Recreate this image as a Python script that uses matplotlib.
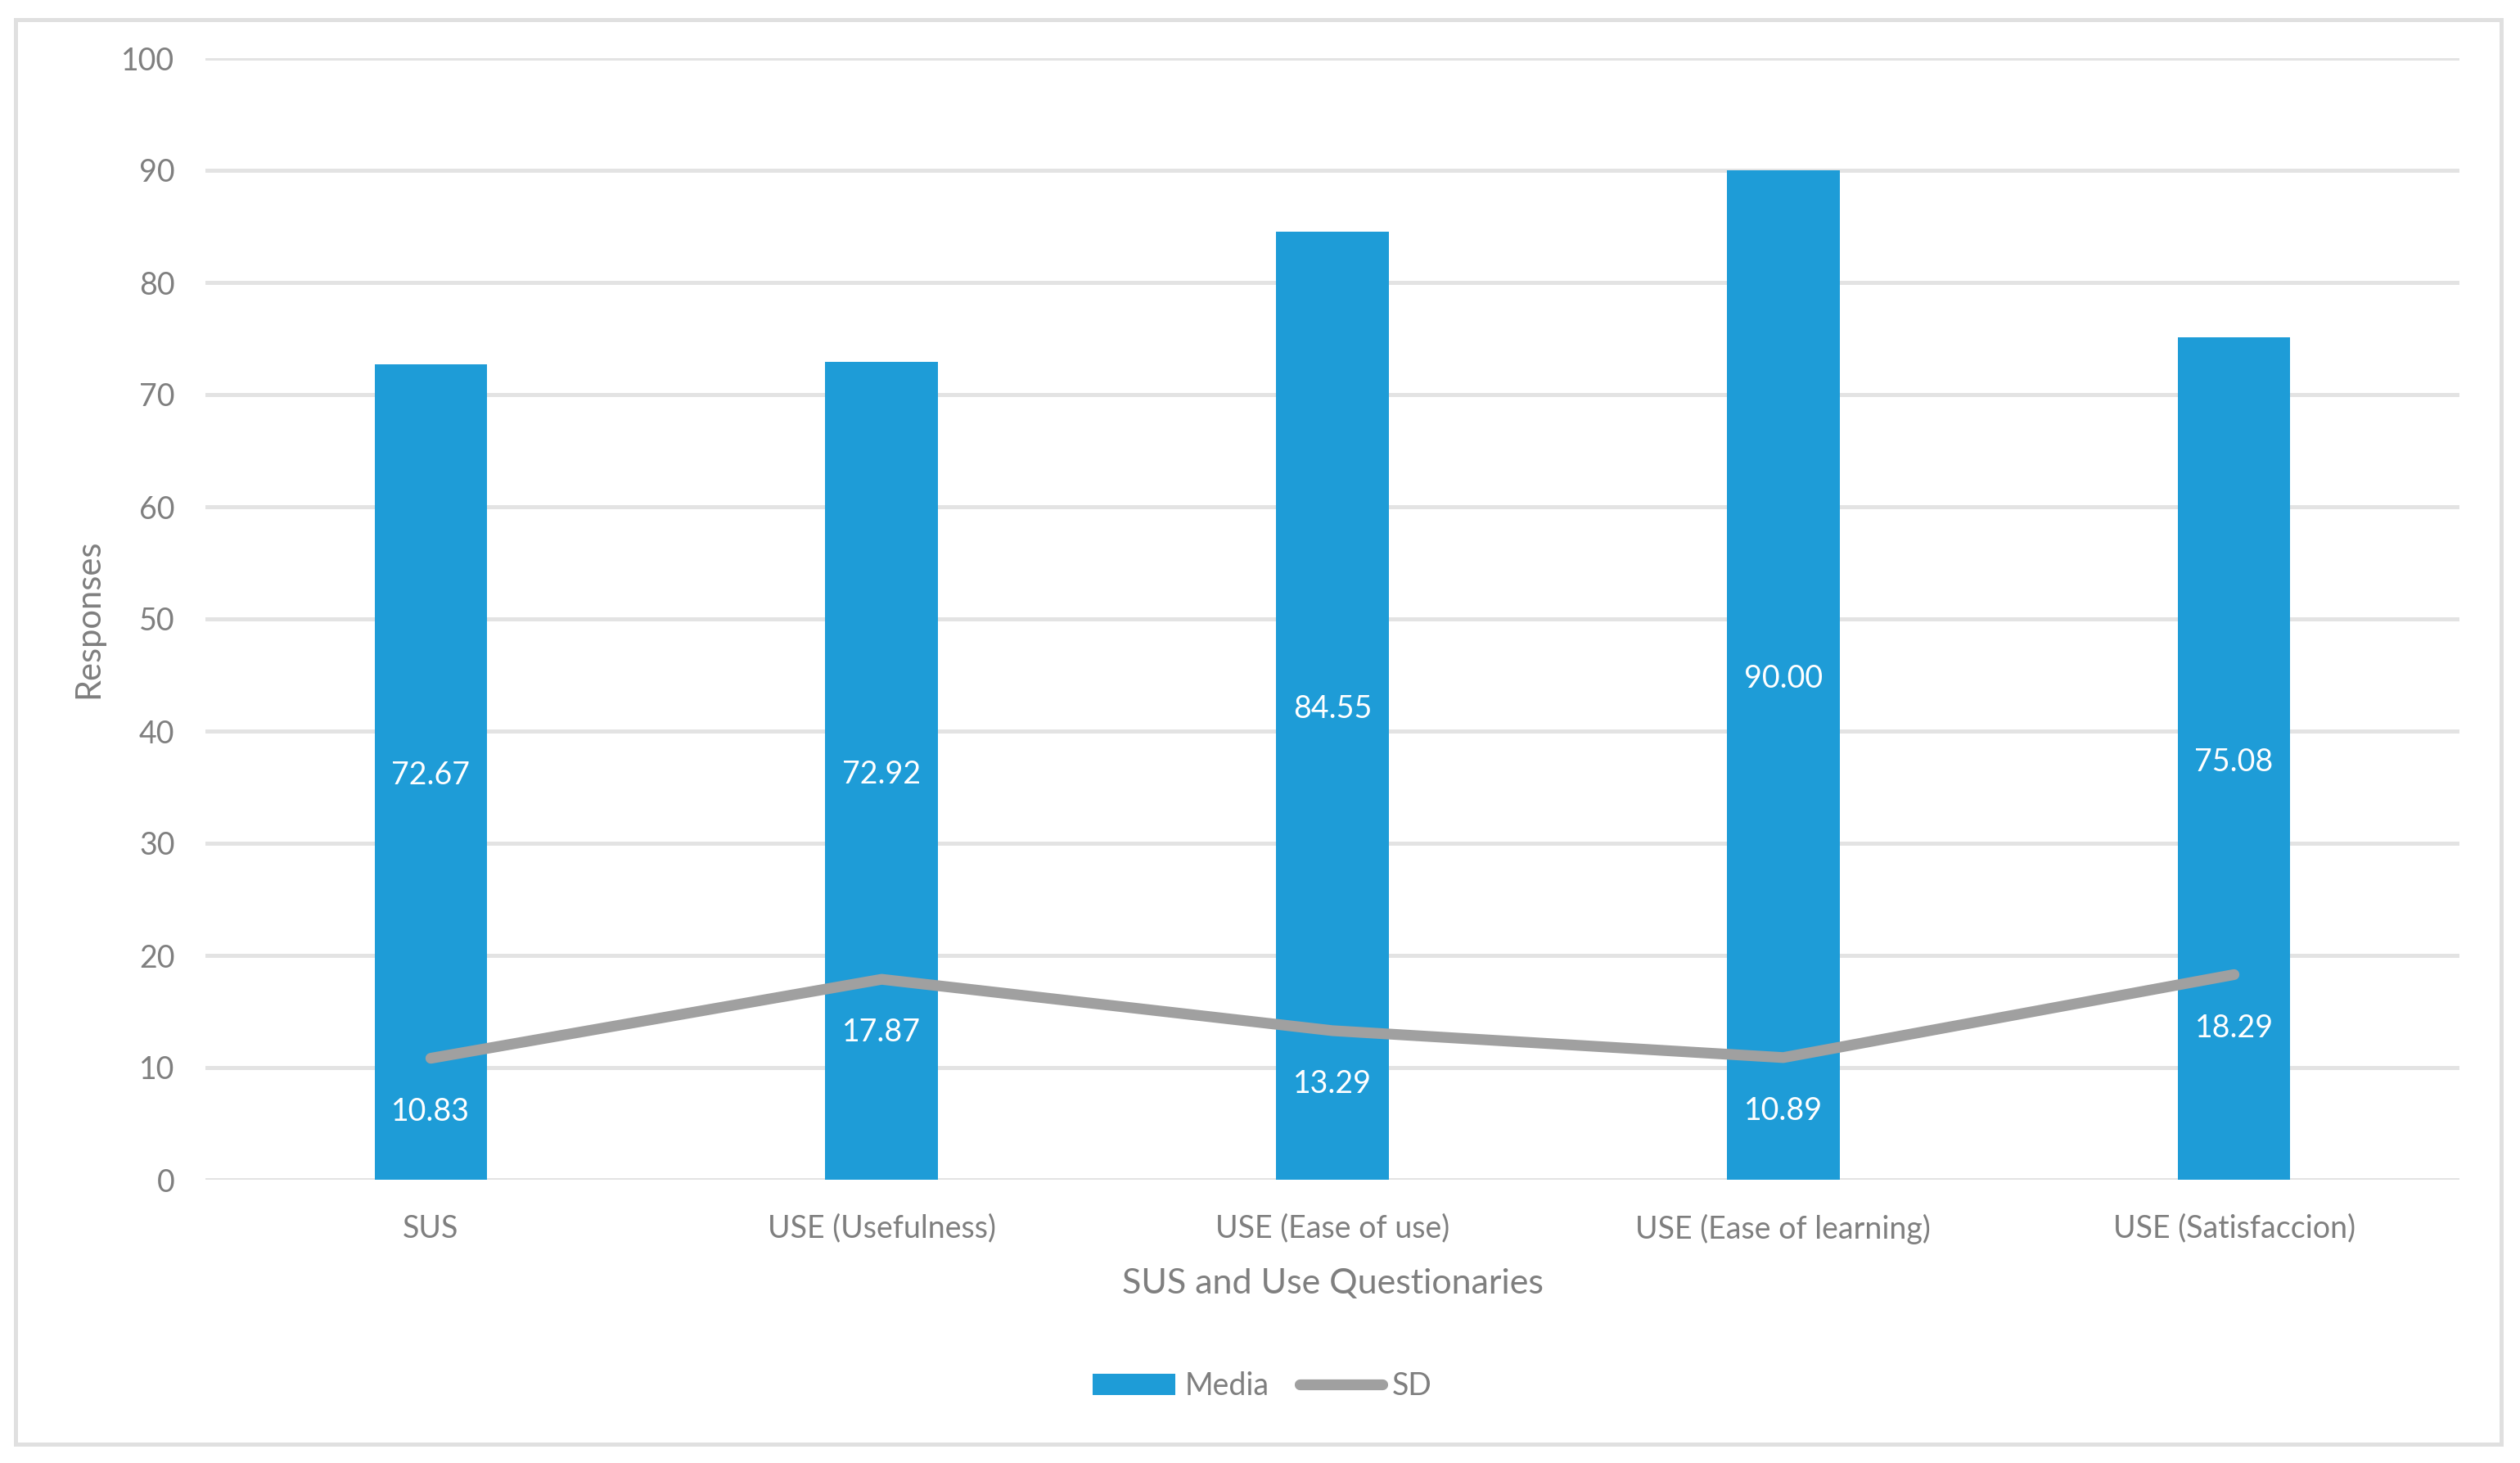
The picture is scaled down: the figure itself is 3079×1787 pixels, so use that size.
import matplotlib
matplotlib.use("Agg")
import matplotlib.pyplot as plt
from matplotlib.patches import Rectangle
from matplotlib.lines import Line2D
from matplotlib.patches import Patch

categories = ["SUS", "USE (Usefulness)", "USE (Ease of use)", "USE (Ease of learning)", "USE (Satisfaccion)"]
media = [72.67, 72.92, 84.55, 90.00, 75.08]
sd = [10.83, 17.87, 13.29, 10.89, 18.29]
yticks = [0, 10, 20, 30, 40, 50, 60, 70, 80, 90, 100]

BLUE = "#1E9CD7"
LINEGRAY = "#A0A0A0"
TEXTGRAY = "#7F7F7F"
GRID = "#E3E3E3"

plt.rcParams['font.family'] = ['Lato', 'DejaVu Sans']

W, H = 3079, 1787
fig = plt.figure(figsize=(W / 100, H / 100), dpi=100)

# outer border
fig.patches.append(Rectangle((19 / W, 1 - 1764 / H), (3056 - 19) / W, (1764 - 24) / H,
                             transform=fig.transFigure, fill=False,
                             edgecolor="#E0E0E0", linewidth=3.6))

left, right, top, bottom = 251, 3005, 71, 1441
ax = fig.add_axes([left / W, 1 - bottom / H, (right - left) / W, (bottom - top) / H])

x = list(range(len(categories)))
ax.bar(x, media, width=0.25, color=BLUE, zorder=2, label="Media")
ax.plot(x, sd, color=LINEGRAY, linewidth=9.5, solid_capstyle="round",
        solid_joinstyle="round", zorder=3, label="SD")

for xi, v in zip(x, media):
    ax.annotate(f"{v:.2f}", (xi, v / 2), xytext=(0, -3), textcoords="offset points",
                color="white", ha="center", va="center", fontsize=27, zorder=4)
for xi, v in zip(x, sd):
    ax.annotate(f"{v:.2f}", (xi, v), xytext=(0, -47), textcoords="offset points",
                color="white", ha="center", va="center", fontsize=27, zorder=4)

ax.set_xlim(-0.5, len(categories) - 0.5)
ax.set_ylim(0, 100)
ax.set_yticks(yticks)
ax.set_xticks(x)
ax.set_xticklabels(categories)
ax.grid(axis="y", color=GRID, linewidth=3.6, zorder=1)
ax.set_axisbelow(True)
for s in ax.spines.values():
    s.set_visible(False)
ax.tick_params(axis="both", length=0, colors=TEXTGRAY, labelsize=27)
ax.tick_params(axis="y", pad=27)
ax.tick_params(axis="x", pad=30)

ax.set_xlabel("SUS and Use Questionaries", color=TEXTGRAY, fontsize=31)
ax.xaxis.label.set_va("center")
ax.xaxis.set_label_coords(0.5, (1441 - 1568) / (bottom - top))
ax.set_ylabel("Responses", color=TEXTGRAY, fontsize=30)
ax.yaxis.label.set_va("center")
ax.yaxis.set_label_coords((108 - left) / (right - left), 0.5)

handles = [Patch(facecolor=BLUE, edgecolor="none"),
           Line2D([0], [0], color=LINEGRAY, linewidth=9.5, solid_capstyle="round")]
leg = fig.legend(handles, ["Media", "SD"], loc="center", bbox_to_anchor=(1542 / W, 1 - 1693 / H),
                 ncol=2, frameon=False, fontsize=27, handlelength=2.7, handletextpad=0.3,
                 columnspacing=1.0)
for t in leg.get_texts():
    t.set_color(TEXTGRAY)

fig.savefig("out.png", dpi=100, facecolor="white")
